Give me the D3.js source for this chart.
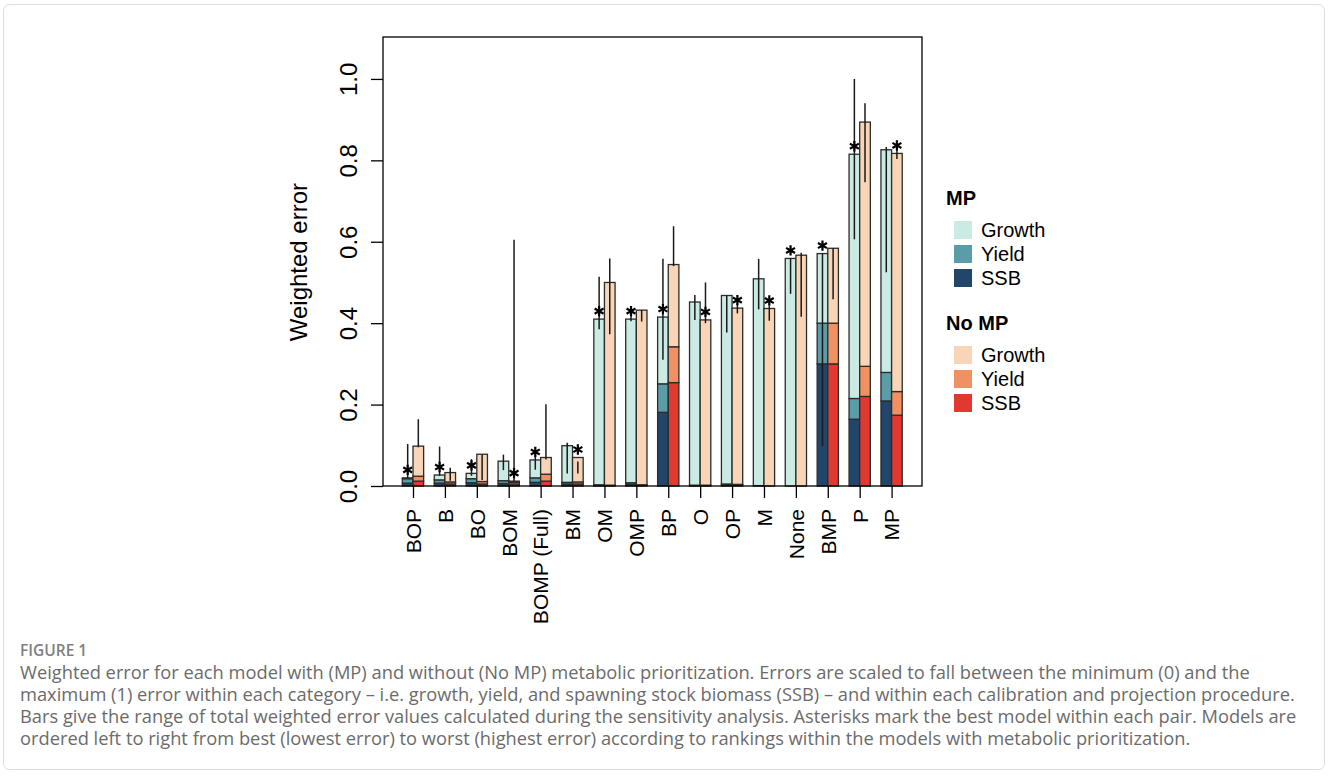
<!DOCTYPE html>
<html>
<head>
<meta charset="utf-8">
<script src="https://cdn.jsdelivr.net/npm/d3@7"></script>
<style>
  body { margin: 0; background: #fff; }
  svg { display: block; }
</style>
</head>
<body>
<svg id="chart" width="1328" height="780"></svg>
<script>
"use strict";

// models, ordered best to worst (with metabolic prioritization)
const models = ["BOP", "B", "BO", "BOM", "BOMP (Full)", "BM", "OM", "OMP",
  "BP", "O", "OP", "M", "None", "BMP", "P", "MP"];

// error components with MP
const mpSSB    = [0.007, 0.007, 0.008, 0.006, 0.009, 0.005, 0.002, 0.004, 0.181, 0.001, 0.003, 0.001, 0.000, 0.300, 0.164, 0.209];
const mpYield  = [0.011, 0.008, 0.010, 0.007, 0.011, 0.004, 0.001, 0.004, 0.070, 0.001, 0.002, 0.000, 0.000, 0.100, 0.051, 0.070];
const mpGrowth = [0.002, 0.012, 0.013, 0.048, 0.044, 0.090, 0.407, 0.402, 0.164, 0.450, 0.463, 0.508, 0.559, 0.171, 0.600, 0.547];

// error components without MP
const noSSB    = [0.012, 0.005, 0.005, 0.005, 0.012, 0.005, 0.001, 0.002, 0.254, 0.001, 0.002, 0.000, 0.000, 0.300, 0.220, 0.174];
const noYield  = [0.012, 0.005, 0.006, 0.004, 0.017, 0.005, 0.001, 0.001, 0.088, 0.001, 0.002, 0.000, 0.000, 0.100, 0.074, 0.058];
const noGrowth = [0.074, 0.023, 0.067, 0.003, 0.041, 0.060, 0.498, 0.429, 0.202, 0.406, 0.433, 0.436, 0.567, 0.184, 0.600, 0.585];

// sensitivity range of total weighted error
const mpLow  = [0.020, 0.025, 0.025, 0.039, 0.040, 0.031, 0.385, 0.405, 0.310, 0.408, 0.377, 0.434, 0.472, 0.098, 0.606, 0.525];
const mpHigh = [0.103, 0.097, 0.066, 0.077, 0.083, 0.106, 0.514, 0.425, 0.558, 0.469, 0.468, 0.558, 0.560, 0.571, 1.000, 0.833];
const noLow  = [0.095, 0.013, 0.015, 0.012, 0.065, 0.031, 0.373, 0.404, 0.540, 0.400, 0.424, 0.406, 0.416, 0.459, 0.746, 0.803];
const noHigh = [0.164, 0.045, 0.077, 0.605, 0.201, 0.060, 0.559, 0.432, 0.638, 0.500, 0.449, 0.442, 0.573, 0.584, 0.940, 0.826];

// best model within each pair
const best = ["MP", "MP", "MP", "No MP", "MP", "No MP", "MP", "MP",
  "MP", "No MP", "No MP", "No MP", "MP", "MP", "MP", "No MP"];

const yTicks = [0, 0.2, 0.4, 0.6, 0.8, 1.0];
const parts = ["SSB", "Yield", "Growth"];
const legendLabels = ["Growth", "Yield", "SSB"];
const mpColors = { Growth: "#c9ebe3", Yield: "#5a9ca8", SSB: "#22466a" };
const noColors = { Growth: "#f8d5b7", Yield: "#f19163", SSB: "#e1392f" };

const captionTitle = "FIGURE 1";
const captionLines = [
  "Weighted error for each model with (MP) and without (No MP) metabolic prioritization. Errors are scaled to fall between the minimum (0) and the",
  "maximum (1) error within each category \u2013 i.e. growth, yield, and spawning stock biomass (SSB) \u2013 and within each calibration and projection procedure.",
  "Bars give the range of total weighted error values calculated during the sensitivity analysis. Asterisks mark the best model within each pair. Models are",
  "ordered left to right from best (lowest error) to worst (highest error) according to rankings within the models with metabolic prioritization."
];

const font = "'Liberation Sans', Arial, Helvetica, sans-serif";
const svg = d3.select("#chart");

// figure frame
svg.append("rect")
  .attr("x", 3.5).attr("y", 4.5)
  .attr("width", 1321).attr("height", 765)
  .attr("rx", 6)
  .attr("fill", "none")
  .attr("stroke", "#dedede");

// plot box
const box = { left: 383, right: 922, top: 37, bottom: 486 };

const x = d3.scaleLinear().domain([0, models.length - 1]).range([413, 891.6]);
const bw = (x(1) - x(0)) / 3;
const y = d3.scaleLinear().domain([0, 1.103]).range([box.bottom, box.top]);

function stackRows(ssb, yld, gr) {
  const rows = models.map((m, i) => ({ SSB: ssb[i], Yield: yld[i], Growth: gr[i] }));
  return d3.stack().keys(parts)(rows);
}

const groups = [
  { name: "MP", stacked: stackRows(mpSSB, mpYield, mpGrowth), colors: mpColors,
    offset: -bw, low: mpLow, high: mpHigh },
  { name: "No MP", stacked: stackRows(noSSB, noYield, noGrowth), colors: noColors,
    offset: 0, low: noLow, high: noHigh }
];

const plot = svg.append("g");

groups.forEach(g => {
  g.stacked.forEach(series => {
    plot.append("g")
      .selectAll("rect")
      .data(series)
      .join("rect")
      .attr("x", (d, i) => x(i) + g.offset)
      .attr("y", d => y(d[1]))
      .attr("width", bw)
      .attr("height", d => y(d[0]) - y(d[1]))
      .attr("fill", g.colors[series.key])
      .attr("stroke", "#2b2b2b")
      .attr("stroke-width", 1.3);
  });
});

// range lines
groups.forEach(g => {
  plot.append("g")
    .selectAll("line")
    .data(models)
    .join("line")
    .attr("x1", (d, i) => x(i) + g.offset + bw / 2)
    .attr("x2", (d, i) => x(i) + g.offset + bw / 2)
    .attr("y1", (d, i) => y(g.low[i]))
    .attr("y2", (d, i) => y(g.high[i]))
    .attr("stroke", "#1a1a1a")
    .attr("stroke-width", 1.5);
});

// asterisks for the best model in each pair
const star = d3.symbol(d3.symbolAsterisk, 75);
plot.append("g")
  .selectAll("path")
  .data(models)
  .join("path")
  .attr("d", star)
  .attr("transform", (d, i) => {
    const g = best[i] === "MP" ? groups[0] : groups[1];
    const top = g.stacked[2][i][1];
    return `translate(${x(i) + g.offset + bw / 2},${y(top) - 8})`;
  })
  .attr("fill", "none")
  .attr("stroke", "#000")
  .attr("stroke-width", 2.2);

// box
svg.append("rect")
  .attr("x", box.left).attr("y", box.top)
  .attr("width", box.right - box.left).attr("height", box.bottom - box.top)
  .attr("fill", "none")
  .attr("stroke", "#000")
  .attr("stroke-width", 1.3);

// y axis
const yAxis = svg.append("g")
  .attr("transform", `translate(${box.left},0)`)
  .call(d3.axisLeft(y).tickValues(yTicks).tickFormat(d3.format(".1f")).tickSize(12));
yAxis.select(".domain").remove();
yAxis.selectAll(".tick line").attr("stroke", "#000").attr("stroke-width", 1.3);
yAxis.selectAll(".tick text")
  .attr("x", null).attr("dy", null)
  .attr("text-anchor", "middle")
  .attr("transform", "translate(-26,0) rotate(-90)")
  .attr("font-family", font)
  .attr("font-size", 24)
  .attr("fill", "#000");

svg.append("text")
  .attr("transform", `translate(307,${y(0.55)}) rotate(-90)`)
  .attr("text-anchor", "middle")
  .attr("font-family", font)
  .attr("font-size", 24)
  .text("Weighted error");

// x axis
const xAxis = svg.append("g")
  .attr("transform", `translate(0,${box.bottom})`)
  .call(d3.axisBottom(x).tickValues(d3.range(models.length))
    .tickFormat(i => models[i]).tickSize(12));
xAxis.select(".domain").remove();
xAxis.selectAll(".tick line").attr("stroke", "#000").attr("stroke-width", 1.3);
xAxis.selectAll(".tick text")
  .attr("y", null).attr("dy", "0.35em")
  .attr("text-anchor", "end")
  .attr("transform", "translate(0,23) rotate(-90)")
  .attr("font-family", font)
  .attr("font-size", 21)
  .attr("fill", "#000");

// legend
const legend = svg.append("g").attr("font-family", font).attr("font-size", 20);
const legendBlocks = [
  { title: "MP", colors: mpColors, top: 198 },
  { title: "No MP", colors: noColors, top: 323 }
];
legendBlocks.forEach(b => {
  legend.append("text")
    .attr("x", 946).attr("y", b.top + 7)
    .attr("font-weight", "bold")
    .text(b.title);
  legendLabels.forEach((lab, k) => {
    const cy = b.top + 32 + k * 24;
    legend.append("rect")
      .attr("x", 954).attr("y", cy - 9)
      .attr("width", 18).attr("height", 18)
      .attr("fill", b.colors[lab]);
    legend.append("text")
      .attr("x", 981).attr("y", cy + 7)
      .text(lab);
  });
});

// caption
const cap = svg.append("g").attr("font-family", "'Open Sans', 'Noto Sans', sans-serif");
cap.append("text")
  .attr("x", 20).attr("y", 656)
  .attr("font-size", 15.5)
  .attr("font-weight", 600)
  .attr("fill", "#808080")
  .text(captionTitle);
cap.selectAll("text.line")
  .data(captionLines)
  .join("text")
  .attr("class", "line")
  .attr("x", 20)
  .attr("y", (d, i) => 679 + i * 22)
  .attr("font-size", 18.3)
  .attr("fill", "#6b6b6b")
  .text(d => d);
</script>
</body>
</html>
